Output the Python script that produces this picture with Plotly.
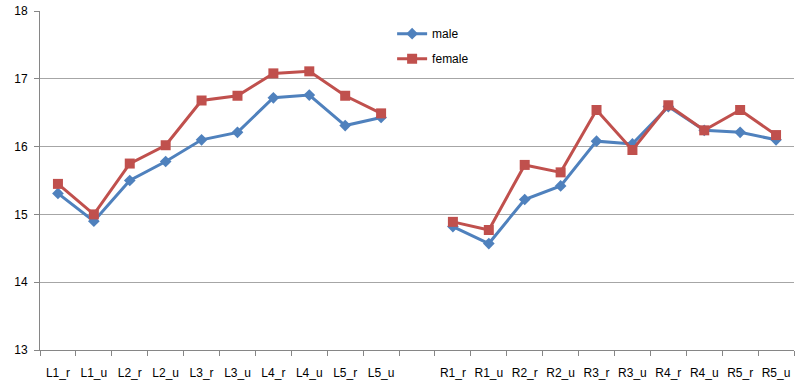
import plotly.graph_objects as go

categories = ["L1_r", "L1_u", "L2_r", "L2_u", "L3_r", "L3_u", "L4_r", "L4_u", "L5_r", "L5_u",
              " ",
              "R1_r", "R1_u", "R2_r", "R2_u", "R3_r", "R3_u", "R4_r", "R4_u", "R5_r", "R5_u"]

male = [15.31, 14.90, 15.50, 15.78, 16.10, 16.21, 16.72, 16.76, 16.31, 16.43,
        None,
        14.82, 14.57, 15.22, 15.42, 16.08, 16.04, 16.59, 16.24, 16.21, 16.10]

female = [15.45, 15.00, 15.75, 16.02, 16.68, 16.75, 17.08, 17.11, 16.75, 16.49,
          None,
          14.89, 14.77, 15.73, 15.62, 16.54, 15.95, 16.61, 16.24, 16.54, 16.17]

y_ticks = [13, 14, 15, 16, 17, 18]

fig = go.Figure()
fig.add_trace(go.Scatter(
    x=categories, y=male, name="male", mode="lines+markers",
    line=dict(color="#4F81BD", width=3),
    marker=dict(symbol="diamond", size=9, color="#4F81BD"),
    connectgaps=False, legendgroup="m",
))
fig.add_trace(go.Scatter(
    x=categories, y=female, name="female", mode="lines+markers",
    line=dict(color="#C0504D", width=3),
    marker=dict(symbol="square", size=10, color="#C0504D"),
    connectgaps=False, legendgroup="f",
))

fig.update_layout(
    width=800, height=389,
    margin=dict(l=40, r=6, t=11, b=39, autoexpand=False),
    paper_bgcolor="white", plot_bgcolor="white",
    font=dict(family="Liberation Sans, Arial, sans-serif", size=12, color="#000000"),
    showlegend=True,
    legend=dict(x=0.467, y=0.976, xanchor="left", yanchor="top",
                bgcolor="rgba(0,0,0,0)", font=dict(size=12),
                traceorder="grouped", tracegroupgap=6),
)
fig.update_xaxes(
    type="category", categoryorder="array", categoryarray=categories,
    showgrid=False, showline=True, linecolor="#868686", linewidth=1,
    ticks="outside", tickson="boundaries", ticklen=5, tickcolor="#868686",
    ticklabelstandoff=12, tickangle=0, automargin=False,
    range=[-0.5, len(categories) - 0.5],
)
fig.update_yaxes(
    range=[13, 18], tickvals=y_ticks, showgrid=True, gridcolor="#A6A6A6", gridwidth=1,
    showline=True, linecolor="#868686", linewidth=1,
    ticks="outside", ticklen=5, tickcolor="#868686", zeroline=False,
    ticklabelstandoff=4, automargin=False,
)

fig.write_html(
    "out.html",
    config={"displayModeBar": False},
    post_script="document.body.style.margin='0';document.body.style.padding='0';",
)
